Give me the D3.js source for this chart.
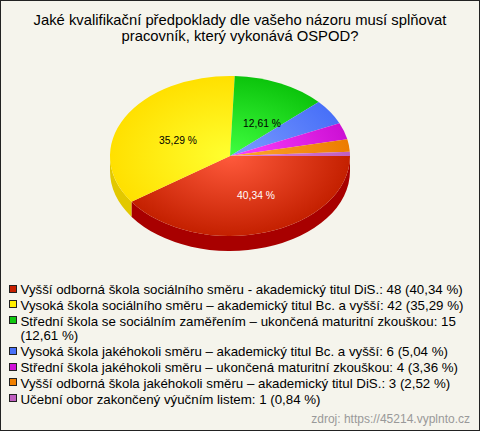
<!DOCTYPE html>
<html><head><meta charset="utf-8">
<script src="https://cdn.jsdelivr.net/npm/d3@7"></script>
<style>html,body{margin:0;padding:0;background:#fff}svg{display:block}text{font-family:"Liberation Sans",Arial,sans-serif}</style>
</head><body><div id="c"></div>
<script>
const titleLines=["Jaké kvalifikační předpoklady dle vašeho názoru musí splňovat","pracovník, který vykonává OSPOD?"];
const categories=["Vyšší odborná škola sociálního směru - akademický titul DiS.","Vysoká škola sociálního směru – akademický titul Bc. a vyšší","Střední škola se sociálním zaměřením – ukončená maturitní zkouškou","Vysoká škola jakéhokoli směru – akademický titul Bc. a vyšší","Střední škola jakéhokoli směru – ukončená maturitní zkouškou","Vyšší odborná škola jakéhokoli směru – akademický titul DiS.","Učební obor zakončený výučním listem"];
const values=[48,42,15,6,4,3,1];
const percents=["40,34 %","35,29 %","12,61 %","5,04 %","3,36 %","2,52 %","0,84 %"];
const baseColors=["#c42000","#ffe000","#0cc40c","#4870f8","#cc10d4","#ec7c00","#c060c0"];
const lightColors=["#ff5a3c","#ffff30","#40ff40","#7c9cff","#ff40ff","#ffa830","#e080e0"];
const swatchColors=["#c82000","#ffee00","#10c810","#4870f8","#d010d8","#f08000","#c060c0"];
const wallColors=["#a80000","#e2c800"];
const W=480,H=431,cx=230,cy=156,rx=120,ry=80,depth=15;
const svg=d3.select("#c").append("svg").attr("width",W).attr("height",H);
svg.append("rect").attr("x",.5).attr("y",.5).attr("width",W-1).attr("height",H-1).attr("fill","#f5f4ec").attr("stroke","#222");
svg.selectAll("text.t").data(titleLines).join("text").attr("class","t").attr("x",W/2).attr("y",(d,i)=>25+i*16).attr("text-anchor","middle").attr("font-size",14.8).attr("fill","#000").text(d=>d);
const pie=d3.pie().sort(null).startAngle(Math.PI/2).endAngle(Math.PI/2+2*Math.PI);
const arcs=pie(values);
const arcGen=d3.arc().innerRadius(0).outerRadius(rx);
const defs=svg.append("defs");
categories.forEach((c,i)=>{const g=defs.append("radialGradient").attr("id","g"+i).attr("gradientUnits","userSpaceOnUse").attr("cx",0).attr("cy",0).attr("r",rx);
 g.append("stop").attr("offset",0).attr("stop-color",lightColors[i]);
 g.append("stop").attr("offset",1).attr("stop-color",baseColors[i]);});
const px=t=>cx+rx*Math.cos(t), py=t=>cy+ry*Math.sin(t);
arcs.forEach((a,i)=>{
 const s=a.startAngle-Math.PI/2,e=Math.min(a.endAngle-Math.PI/2,Math.PI);
 if(s>=Math.PI)return;
 svg.append("path").attr("fill",wallColors[i]).attr("d",`M${px(s)},${py(s)}A${rx},${ry} 0 0 1 ${px(e)},${py(e)}L${px(e)},${py(e)+depth}A${rx},${ry} 0 0 0 ${px(s)},${py(s)+depth}Z`);
});
const pieTop=svg.append("g").attr("transform",`translate(${cx},${cy}) scale(1,${ry/rx})`);
pieTop.selectAll("path").data(arcs).join("path").attr("d",arcGen).attr("fill",(d,i)=>`url(#g${i})`);
const labelPos=[[256,199],[178,144],[262,127]];
labelPos.forEach((p,i)=>svg.append("text").attr("x",p[0]).attr("y",p[1]).attr("text-anchor","middle").attr("font-size",10.3).attr("fill",i==0?"#fff":"#000").text(percents[i]));
const lg=svg.append("g");
let y=289.5;
const fs=13.3;
categories.forEach((c,i)=>{
 lg.append("rect").attr("x",9.5).attr("y",Math.round(y)-4.5).attr("width",7).attr("height",7).attr("fill",swatchColors[i]).attr("stroke","#222");
 const txt=`${c}: ${values[i]} (${percents[i]})`;
 if(i==2){
  lg.append("text").attr("x",20.5).attr("y",y+4.5).attr("font-size",fs).text(`${c}: ${values[i]}`);
  y+=14.5;
  lg.append("text").attr("x",20.5).attr("y",y+4.5).attr("font-size",fs).text(`(${percents[i]})`);
 } else lg.append("text").attr("x",20.5).attr("y",y+4.5).attr("font-size",fs).text(txt);
 y+=15.9;
});
svg.append("text").attr("x",470).attr("y",423).attr("text-anchor","end").attr("font-size",12).attr("fill","#999").text("zdroj: https://45214.vyplnto.cz");
</script></body></html>
